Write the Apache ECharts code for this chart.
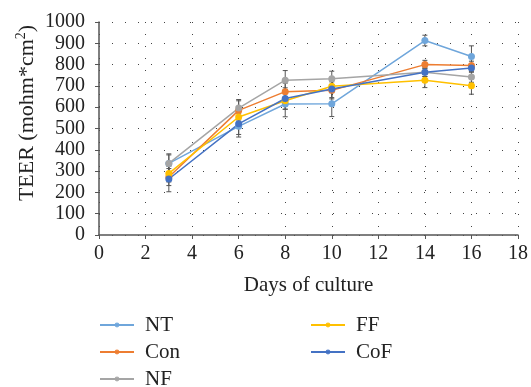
<!DOCTYPE html>
<html><head><meta charset="utf-8">
<script src="https://cdn.jsdelivr.net/npm/echarts@6/dist/echarts.min.js"></script>
<style>html,body{margin:0;padding:0;background:#fff;}#c{width:531px;height:387px;}</style>
</head><body><div id="c"></div>
<script>
const days = [3, 6, 8, 10, 14, 16];
const seriesNames = ['NT', 'Con', 'NF', 'FF', 'CoF'];
const NT  = [336, 510, 615, 616, 913, 838];
const Con = [272, 585, 673, 679, 800, 796];
const NF  = [336, 596, 727, 734, 764, 742];
const FF  = [289, 554, 630, 698, 727, 701];
const CoF = [263, 522, 641, 685, 764, 784];
const errNT  = [40, 50, 60, 60, 25, 50];
const errCon = [40, 45, 40, 40, 20, 20];
const errNF  = [45, 40, 45, 35, 20, 25];
const errFF  = [40, 40, 40, 30, 35, 40];
const errCoF = [60, 50, 50, 40, 20, 20];
const xTicks = [0, 2, 4, 6, 8, 10, 12, 14, 16, 18];
const yTicks = [0, 100, 200, 300, 400, 500, 600, 700, 800, 900, 1000];
const yTitle = ['TEER (mohm*cm', '2', ')'];
const xTitle = 'Days of culture';

const colors = ['#6fa6db', '#ed7d31', '#a5a5a5', '#ffc000', '#4472c4'];
const values = [NT, Con, NF, FF, CoF];
const errs = [errNT, errCon, errNF, errFF, errCoF];
const font = 'Liberation Serif, DejaVu Serif, serif';

const chart = echarts.init(document.getElementById('c'), null, {renderer: 'canvas'});
const series = [];
values.forEach((vals, i) => {
  series.push({
    type: 'custom', name: seriesNames[i] + '_err', silent: true, z: 1,
    data: days.map((d, j) => [d, vals[j] - errs[i][j], vals[j] + errs[i][j]]),
    renderItem: function (params, api) {
      const lo = api.coord([api.value(0), api.value(1)]);
      const hi = api.coord([api.value(0), api.value(2)]);
      const hw = 2.5;
      const st = {stroke: '#555', lineWidth: 1};
      return {type: 'group', children: [
        {type: 'line', shape: {x1: lo[0], y1: lo[1], x2: hi[0], y2: hi[1]}, style: st},
        {type: 'line', shape: {x1: lo[0]-hw, y1: lo[1], x2: lo[0]+hw, y2: lo[1]}, style: st},
        {type: 'line', shape: {x1: hi[0]-hw, y1: hi[1], x2: hi[0]+hw, y2: hi[1]}, style: st}
      ]};
    }
  });
});
values.forEach((vals, i) => {
  series.push({
    type: 'line', name: seriesNames[i], z: 3,
    data: days.map((d, j) => [d, vals[j]]),
    color: colors[i],
    symbol: 'circle', symbolSize: 7,
    lineStyle: {width: 1.5, color: colors[i]},
    itemStyle: {color: colors[i]}
  });
});

const legendPos = {NT: [99, 325], Con: [99, 352], NF: [99, 379], FF: [310, 325], CoF: [310, 352]};
const legends = seriesNames.map(n => ({
  data: [n], left: legendPos[n][0], top: legendPos[n][1] - 11,
  itemWidth: 34, itemHeight: 6, itemGap: 10, padding: 0,
  itemStyle: {opacity: 0.9},
  lineStyle: {width: 2},
  textStyle: {fontFamily: font, fontSize: 21, color: '#222', padding: [0, 0, 0, 6], lineHeight: 22},
  selectedMode: false
}));

chart.setOption({
  animation: false,
  backgroundColor: '#fff',
  grid: {left: 99, right: 11, top: 22, bottom: 152},
  xAxis: {
    type: 'value', min: 0, max: 18, interval: 2,
    name: xTitle, nameLocation: 'middle', nameGap: 40,
    nameTextStyle: {fontFamily: font, fontSize: 21, color: '#222'},
    axisLine: {lineStyle: {color: '#555', width: 1.5}},
    axisTick: {show: true, length: 4, lineStyle: {color: '#555'}},
    axisLabel: {fontFamily: font, fontSize: 20, color: '#222', margin: 9},
    splitLine: {show: true, lineStyle: {color: '#444', type: [1, 11], width: 1}}
  },
  yAxis: {
    type: 'value', min: 0, max: 1000, interval: 100,
    axisLine: {show: true, lineStyle: {color: '#555', width: 1.5}},
    axisTick: {show: true, length: 4, lineStyle: {color: '#555'}},
    axisLabel: {fontFamily: font, fontSize: 20, color: '#222', margin: 14, formatter: v => String(v)},
    splitLine: {show: true, lineStyle: {color: '#444', type: [1, 12], width: 1}}
  },
  graphic: [{
    type: 'text', x: 26, y: 113, rotation: Math.PI / 2,
    style: {
      text: '{a|' + yTitle[0] + '}{s|' + yTitle[1] + '}{a|' + yTitle[2] + '}',
      align: 'center', verticalAlign: 'middle',
      rich: {
        a: {fontFamily: font, fontSize: 22, fill: '#222', verticalAlign: 'bottom'},
        s: {fontFamily: font, fontSize: 14, fill: '#222', verticalAlign: 'top', padding: [0, 0, 10, 0]}
      }
    }
  }],
  legend: legends,
  series: series
});
</script></body></html>
